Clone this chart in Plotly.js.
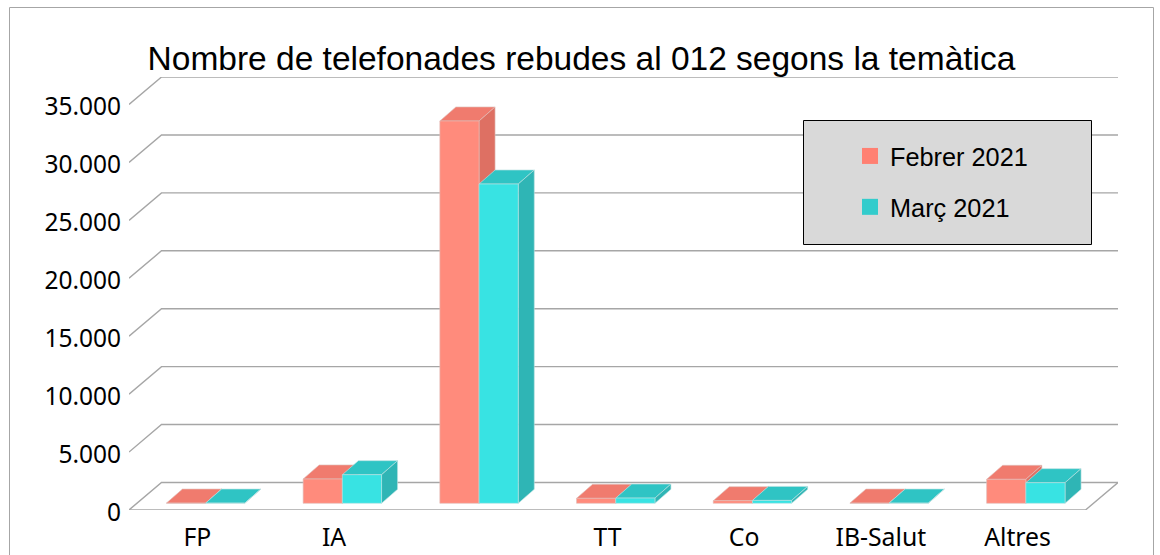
<!DOCTYPE html>
<html><head><meta charset="utf-8">
<script src="https://cdn.plot.ly/plotly-3.0.1.min.js"></script>
<style>html,body{margin:0;padding:0;background:#fff;overflow:hidden}#c{width:1160px;height:555px}</style>
</head><body><div id="c"></div>
<script>
const categories = ['FP','IA','','TT','Co','IB-Salut','Altres'];
const febrer = [20, 2100, 33000, 430, 225, 20, 2070];
const marc = [20, 2470, 27560, 450, 250, 20, 1780];
const seriesNames = ['Febrer 2021','Març 2021'];
const yTicks = [0,5000,10000,15000,20000,25000,30000,35000];
const yLabels = ['0','5.000','10.000','15.000','20.000','25.000','30.000','35.000'];

const W=1160,H=555,L=129,R=1118,T=77,B=510;
const pxPerCat=136.7, pxPerVal=405.5/35000;
const ux=p=>p/pxPerCat, uy=p=>p/pxPerVal;
const xMin=-0.5, xMax=xMin+ux(R-L), yMax=uy(B-T);
const floorDX=ux(32.5), floorDY=uy(27.5);
const barDX=ux(16), barDY=uy(14), barW=ux(39.2), barBase=uy(6.7), barShift=ux(8.3);
const px=x=>(x-L)/(R-L), py=y=>(B-y)/(B-T);

const faceColors=[
  {front:'#ff8b7c',top:'#f07b6e',side:'#de7063',edge:'rgba(225,190,185,0.8)'},
  {front:'#38e3e3',top:'#2fc4c4',side:'#2fb5b5',edge:'rgba(185,225,225,0.8)'}
];
const legendColors=['#ff8072','#33cccc'];

function poly(xs,ys,color,edge){
  return {type:'scatter',mode:'lines',x:xs,y:ys,fill:'toself',fillcolor:color,
    line:{color:edge,width:0.8},hoverinfo:'skip',showlegend:false,cliponaxis:false};
}
function facesFor(values,s){
  const f={fx:[],fy:[],tx:[],ty:[],sx:[],sy:[]};
  values.forEach((v,i)=>{
    const x0=i+barShift+(s-1)*barW, x1=x0+barW, y0=barBase, y1=barBase+v;
    f.fx.push(x0,x1,x1,x0,x0,null); f.fy.push(y0,y0,y1,y1,y0,null);
    f.tx.push(x0,x1,x1+barDX,x0+barDX,x0,null); f.ty.push(y1,y1,y1+barDY,y1+barDY,y1,null);
    f.sx.push(x1,x1+barDX,x1+barDX,x1,x1,null); f.sy.push(y0,y0+barDY,y1+barDY,y1,y0,null);
  });
  const c=faceColors[s];
  return [poly(f.tx,f.ty,c.top,c.edge),poly(f.sx,f.sy,c.side,c.edge),poly(f.fx,f.fy,c.front,c.edge)];
}

const gx=[],gy=[];
yTicks.forEach(t=>{
  gx.push(xMin,xMin+floorDX,xMax,null);
  gy.push(t,t+floorDY,t+floorDY,null);
});
gx.push(xMin,xMax-floorDX,xMax,null);
gy.push(0,0,floorDY,null);
const grid={type:'scatter',mode:'lines',x:gx,y:gy,line:{color:'#a6a6a6',width:1.4},
  hoverinfo:'skip',showlegend:false,cliponaxis:false};

const legendTraces=seriesNames.map((n,i)=>({type:'scatter',mode:'markers',x:[null],y:[null],name:n,
  legendgroup:'g'+i,marker:{symbol:'square',size:16,color:legendColors[i]},hoverinfo:'skip'}));

const data=[grid,...facesFor(febrer,0),...facesFor(marc,1),...legendTraces];

const layout={
  width:W,height:H,margin:{l:L,r:W-R,t:T,b:H-B,pad:0},
  paper_bgcolor:'#fff',plot_bgcolor:'rgba(0,0,0,0)',
  title:{text:'Nombre de telefonades rebudes al 012 segons la temàtica',
    font:{family:'Liberation Sans',size:33.5,color:'#000'},
    xref:'container',yref:'container',x:581.5/W,y:1-58/H,xanchor:'center',yanchor:'middle'},
  xaxis:{range:[xMin,xMax],tickmode:'array',tickvals:categories.map((_,i)=>i),ticktext:categories,
    showgrid:false,zeroline:false,showline:false,ticks:'outside',ticklen:5,tickcolor:'rgba(0,0,0,0)',
    tickfont:{family:'Noto Sans',size:24.8,color:'#000'},fixedrange:true},
  yaxis:{range:[0,yMax],tickmode:'array',tickvals:yTicks,ticktext:yLabels,ticklabelshift:2,
    showgrid:false,zeroline:false,showline:false,ticks:'outside',ticklen:2,tickcolor:'rgba(0,0,0,0)',
    tickfont:{family:'Noto Sans',size:24.5,color:'#000'},fixedrange:true},
  shapes:[
    {type:'rect',xref:'paper',yref:'paper',x0:px(9.5),x1:px(1153.5),y0:py(7.5),y1:py(600),
      line:{color:'#a6a6a6',width:1},fillcolor:'rgba(0,0,0,0)',layer:'below'},
    {type:'rect',xref:'paper',yref:'paper',x0:px(803.5),x1:px(1091.5),y0:py(120.5),y1:py(244.5),
      line:{color:'#000',width:1},fillcolor:'#d9d9d9',layer:'above'}
  ],
  legend:{x:px(850),y:py(133),xanchor:'left',yanchor:'top',bgcolor:'rgba(0,0,0,0)',borderwidth:0,
    traceorder:'grouped',tracegroupgap:15,font:{family:'Liberation Sans',size:25.3,color:'#000'}},
  showlegend:true
};
Plotly.newPlot('c',data,layout,{displayModeBar:false,staticPlot:true});
</script></body></html>
